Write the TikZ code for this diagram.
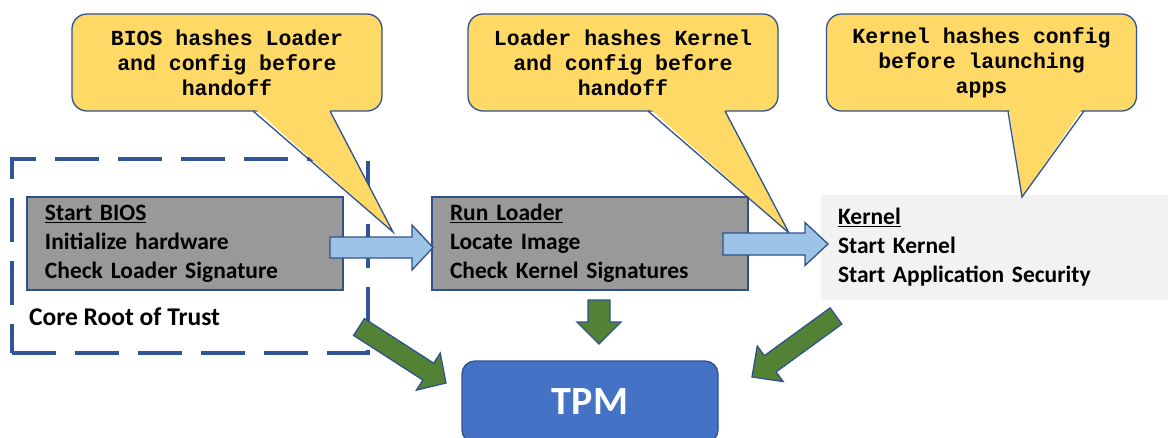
\documentclass[tikz,border=0pt]{standalone}
\usepackage{fontspec}
\setmainfont{Carlito}
\newfontfamily\calloutfont{Liberation Mono}
\usetikzlibrary{calc}

\definecolor{calloutfill}{HTML}{FFD966}
\definecolor{edgeblue}{HTML}{2F528F}
\definecolor{frameblue}{HTML}{2F5597}
\definecolor{stagegrey}{HTML}{999999}
\definecolor{kernelgrey}{HTML}{F2F2F2}
\definecolor{flowblue}{HTML}{9DC3E6}
\definecolor{measuregreen}{HTML}{548235}
\definecolor{tpmblue}{HTML}{4472C4}

% Block arrow from #2 (tail) to #3 (tip): #4 shaft half-width, #5 head half-width, #6 head length (pt)
\newcommand\blockarrow[6]{%
  \draw[#1] let \p1=($(#3)-(#2)$), \n1={atan2(\y1,\x1)}, \n2={veclen(\x1,\y1)} in
    [shift={(#2)}, rotate=\n1]
    (0pt,{#4*1pt}) -- ({(\n2-#6)*1pt},{#4*1pt}) -- ({(\n2-#6)*1pt},{#5*1pt})
    -- ({\n2*1pt},0pt) -- ({(\n2-#6)*1pt},{-#5*1pt}) -- ({(\n2-#6)*1pt},{-#4*1pt})
    -- (0pt,{-#4*1pt}) -- cycle;}

\begin{document}
\begin{tikzpicture}[x=1pt,y=-1pt,
  stagetext/.style={font=\fontsize{23.5}{28.8}\selectfont\bfseries},
  stagebox/.style={stagetext, draw=edgeblue, line width=1.3pt, fill=stagegrey,
    align=left, inner xsep=18pt, inner ysep=0pt, text width=280pt,
    minimum width=316pt, minimum height=93pt},
  kernelbox/.style={stagetext, fill=kernelgrey, align=left, inner xsep=17pt,
    inner ysep=0pt, text width=313pt, minimum height=105pt},
  trustframe/.style={draw=frameblue, line width=4.5pt, dash pattern=on 44pt off 19pt,
    minimum width=356pt, minimum height=194pt, inner sep=0pt},
  calloutbox/.style={font=\calloutfont\bfseries\fontsize{21.5}{25}\selectfont,
    align=center, fill=calloutfill, draw=edgeblue, line width=1.3pt,
    rounded corners=15pt, minimum width=310pt, minimum height=97pt, inner sep=0pt},
  callouttail/.style={draw=edgeblue, line width=1.3pt, line join=miter},
  flowarrow/.style={fill=flowblue, draw=edgeblue, line width=1.3pt, line join=miter},
  measurearrow/.style={fill=measuregreen, draw=edgeblue, line width=1.3pt, line join=miter},
  tpmbox/.style={fill=tpmblue, draw=edgeblue, line width=1.3pt, rounded corners=13pt,
    minimum width=256pt, minimum height=82pt, text=white,
    font=\fontsize{40}{48}\selectfont\bfseries}
]
\clip (0,0) rectangle (1168,437);

% Core root of trust frame
\node[trustframe] (crt) at (190,256) {};
\node[font=\fontsize{25.5}{30}\selectfont\bfseries, anchor=west, inner sep=0pt]
  (crtlabel) at (29,317) {Core Root of Trust};

% Boot stages
\node[stagebox] (bios) at (185,243.5)
  {\underline{Start BIOS}\\Initialize hardware\\Check Loader Signature};
\node[stagebox] (loader) at (590,243.5)
  {\underline{Run Loader}\\Locate Image\\Check Kernel Signatures};
\node[kernelbox, minimum width=347pt] (kernel) at (994.5,247)
  {\underline{Kernel}\\Start Kernel\\Start Application Security};

% Callouts
\node[calloutbox] (c1) at (227,62.5) {BIOS hashes Loader\\and config before\\handoff};
\node[calloutbox] (c2) at (623,62.5) {Loader hashes Kernel\\and config before\\handoff};
\node[calloutbox] (c3) at (981.5,62.5) {Kernel hashes config\\before launching\\apps};

\coordinate (c1a) at (253,111); \coordinate (c1b) at (330,111); \coordinate (c1tip) at (393,232);
\coordinate (c2a) at (648,111); \coordinate (c2b) at (725,111); \coordinate (c2tip) at (789,233);
\coordinate (c3a) at (1008,111); \coordinate (c3b) at (1084,111); \coordinate (c3tip) at (1022,197);

\foreach \c in {c1,c2,c3}{
  \fill[calloutfill] ($(\c a)+(1,-3)$) -- (\c tip) -- ($(\c b)+(-1,-3)$) -- cycle;
  \draw[callouttail] (\c a) -- (\c tip) -- (\c b);
}

% Hand-off arrows between stages
\coordinate (f1s) at (330,247.5); \coordinate (f1e) at (433,247.5);
\coordinate (f2s) at (723,244);   \coordinate (f2e) at (828,244);
\blockarrow{flowarrow}{f1s}{f1e}{10.5}{22.5}{21}
\blockarrow{flowarrow}{f2s}{f2e}{11}{21.5}{23}

% Measurements sent to the TPM
\node[tpmbox] (tpm) at (590,402) {TPM};
\coordinate (m1s) at (359,327); \coordinate (m1e) at (446,383);
\coordinate (m2s) at (599,300); \coordinate (m2e) at (599,344);
\coordinate (m3s) at (836,316); \coordinate (m3e) at (752,377);
\blockarrow{measurearrow}{m1s}{m1e}{10}{22}{21}
\blockarrow{measurearrow}{m2s}{m2e}{11}{22}{22}
\blockarrow{measurearrow}{m3s}{m3e}{10}{22}{22.5}
\end{tikzpicture}
\end{document}
